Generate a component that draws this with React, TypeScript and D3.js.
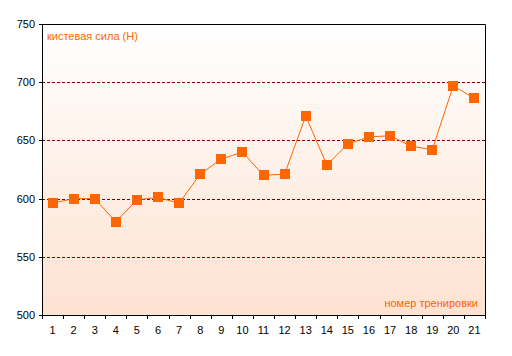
import React from "react";
import * as d3 from "d3";

const sessions = ["1","2","3","4","5","6","7","8","9","10","11","12","13","14","15","16","17","18","19","20","21"];
const gripStrength = [596, 600, 600, 580, 599, 601, 596, 621, 634, 640, 620, 621, 671, 629, 647, 653, 654, 645, 642, 697, 686];
const yTicks = [500, 550, 600, 650, 700, 750];
const gridValues = [550, 600, 650, 700];
const yLabel = "кистевая сила (Н)";
const xLabel = "номер тренировки";

export default function App() {
  const W = 512, H = 356;
  const left = 42, right = 485, top = 24, bottom = 315;
  const x = d3.scaleBand<string>().domain(sessions).range([left, right]).padding(0);
  const y = d3.scaleLinear().domain([500, 750]).range([bottom, top]);
  const line = d3.line<number>()
    .x((_, i) => (x(sessions[i]) as number) + x.bandwidth() / 2)
    .y((d) => y(d));
  const font = "'Liberation Sans', Arial, sans-serif";
  const boundaries = sessions.map((s) => x(s) as number).concat([right]);
  return (
    <svg width={W} height={H} style={{ position: "absolute", left: 0, top: 0 }} fontFamily={font}>
      <defs>
        <linearGradient id="bg" x1="0" y1="0" x2="0" y2="1">
          <stop offset="0" stopColor="#ffffff" />
          <stop offset="1" stopColor="#fde2d1" />
        </linearGradient>
      </defs>
      <rect x={0} y={0} width={W} height={H} fill="#fff" />
      <rect x={left} y={top} width={right - left} height={bottom - top} fill="url(#bg)" />
      {gridValues.map((v) => (
        <line key={v} x1={left} x2={right} y1={Math.round(y(v)) + 0.5} y2={Math.round(y(v)) + 0.5}
          stroke="#800000" strokeWidth={1} strokeDasharray="3,2" />
      ))}
      <path d={line(gripStrength) || ""} fill="none" stroke="#ff6600" strokeWidth={1} />
      {gripStrength.map((v, i) => {
        const cx = (x(sessions[i]) as number) + x.bandwidth() / 2;
        return <rect key={i} x={Math.round(cx - 5)} y={Math.round(y(v) - 5)} width={10} height={10} fill="#ff6600" />;
      })}
      <path d={`M${left + 0.5},${top + 0.5}H${right + 0.5}V${bottom + 0.5}`} fill="none" stroke="#000" strokeWidth={1} />
      <line x1={left + 0.5} x2={left + 0.5} y1={top} y2={bottom + 1} stroke="#000" />
      <line x1={left} x2={right + 1} y1={bottom + 0.5} y2={bottom + 0.5} stroke="#000" />
      {yTicks.map((v) => (
        <g key={v}>
          <line x1={left - 3} x2={left} y1={Math.round(y(v)) + 0.5} y2={Math.round(y(v)) + 0.5} stroke="#000" />
          <text x={left - 7} y={y(v) + 4} fontSize={11} textAnchor="end" fill="#000">{v}</text>
        </g>
      ))}
      {boundaries.map((b, i) => (
        <line key={i} x1={Math.round(b) + 0.5} x2={Math.round(b) + 0.5} y1={bottom} y2={bottom + 4} stroke="#000" />
      ))}
      {sessions.map((s) => (
        <text key={s} x={(x(s) as number) + x.bandwidth() / 2} y={bottom + 19} fontSize={11} textAnchor="middle" fill="#000">{s}</text>
      ))}
      <text x={47} y={40} fontSize={11} fill="#ff6600">{yLabel}</text>
      <text x={478} y={307} fontSize={11} fill="#ff6600" textAnchor="end">{xLabel}</text>
    </svg>
  );
}
